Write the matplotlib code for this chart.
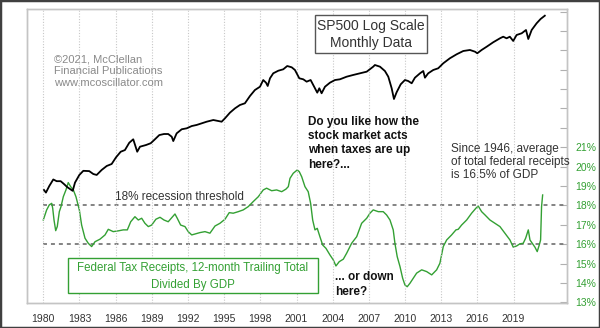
import matplotlib
matplotlib.use("Agg")
import matplotlib.pyplot as plt
from matplotlib.patches import Rectangle

plt.rcParams['font.family'] = ['Liberation Sans', 'DejaVu Sans']

# ---------------- data ----------------
sp_years = [1980.06, 1980.22, 1980.50, 1980.83, 1981.11, 1981.44, 1981.72, 1981.99, 1982.44, 1982.63,
            1982.99, 1983.32, 1983.81, 1984.15, 1984.43, 1984.84, 1985.26, 1985.67, 1986.03, 1986.42,
            1986.77, 1987.13, 1987.46, 1987.79, 1988.02, 1988.52, 1988.91, 1989.26, 1989.62, 1990.01,
            1990.36, 1990.65, 1990.78, 1991.06, 1991.48, 1991.89, 1992.31, 1992.72, 1993.13, 1993.55,
            1994.10, 1994.51, 1994.79, 1995.07, 1995.48, 1995.90, 1996.31, 1996.72, 1997.14, 1997.55,
            1997.97, 1998.24, 1998.47, 1998.61, 1998.80, 1999.07, 1999.49, 1999.90, 2000.23, 2000.60,
            2000.87, 2001.23, 2001.56, 2001.84, 2002.17, 2002.53, 2002.72, 2002.89, 2003.08, 2003.36,
            2003.77, 2004.19, 2004.60, 2005.16, 2005.70, 2006.26, 2006.82, 2007.36, 2007.50, 2007.92,
            2008.33, 2008.61, 2008.89, 2009.08, 2009.30, 2009.64, 2009.99, 2010.26, 2010.55, 2010.82,
            2011.24, 2011.51, 2011.65, 2011.92, 2012.34, 2012.75, 2013.17, 2013.72, 2014.28, 2014.83,
            2015.38, 2015.80, 2015.99, 2016.35, 2016.77, 2017.31, 2017.87, 2018.14, 2018.42, 2018.69,
            2018.97, 2019.25, 2019.67, 2020.03, 2020.22, 2020.50, 2020.91, 2021.24, 2021.59]
sp_values = [114, 108, 124, 142, 137, 137, 129, 121, 112, 133,
             156, 170, 169, 159, 156, 173, 188, 196, 225, 253,
             262, 305, 328, 253, 281, 291, 302, 328, 358, 366,
             366, 346, 316, 371, 404, 412, 432, 442, 457, 473,
             490, 480, 473, 508, 571, 625, 670, 694, 808, 915,
             980, 1127, 1066, 995, 1168, 1296, 1368, 1409, 1509, 1469,
             1389, 1168, 1144, 1089, 1127, 949, 866, 949, 855, 980,
             1066, 1127, 1144, 1208, 1252, 1296, 1341, 1488, 1541, 1488,
             1360, 1208, 949, 759, 873, 1031, 1127, 1104, 1053, 1183,
             1296, 1360, 1183, 1296, 1389, 1439, 1597, 1773, 1927, 2063,
             2107, 2034, 1967, 2107, 2256, 2474, 2687, 2779, 2687, 2779,
             2541, 2879, 2983, 3196, 2649, 3196, 3674, 4018, 4304]

tax_years = [1980.00, 1980.28, 1980.50, 1980.70, 1980.78, 1980.89, 1981.03, 1981.16, 1981.33, 1981.47,
             1981.66, 1981.88, 1982.07, 1982.27, 1982.49, 1982.71, 1982.99, 1983.18, 1983.46, 1983.73,
             1984.01, 1984.29, 1984.70, 1985.12, 1985.39, 1985.80, 1986.22, 1986.63, 1986.97, 1987.25,
             1987.60, 1987.88, 1988.16, 1988.43, 1988.71, 1988.99, 1989.34, 1989.68, 1990.01, 1990.36,
             1990.73, 1990.92, 1991.11, 1991.39, 1991.75, 1992.02, 1992.31, 1992.58, 1992.99, 1993.41,
             1993.82, 1994.24, 1994.65, 1995.07, 1995.42, 1995.75, 1996.17, 1996.58, 1997.00, 1997.41,
             1997.83, 1998.24, 1998.52, 1998.94, 1999.35, 1999.77, 2000.12, 2000.32, 2000.46, 2000.73,
             2001.06, 2001.23, 2001.43, 2001.70, 2001.97, 2002.17, 2002.34, 2002.53, 2002.72, 2002.94,
             2003.17, 2003.44, 2003.77, 2004.05, 2004.27, 2004.54, 2004.88, 2005.16, 2005.57, 2005.99,
             2006.40, 2006.82, 2007.09, 2007.36, 2007.78, 2008.19, 2008.47, 2008.75, 2009.02, 2009.16,
             2009.35, 2009.58, 2009.80, 2009.99, 2010.18, 2010.41, 2010.68, 2010.96, 2011.38, 2011.79,
             2012.21, 2012.62, 2012.89, 2013.17, 2013.45, 2013.86, 2014.22, 2014.41, 2014.69, 2015.11,
             2015.52, 2015.88, 2016.07, 2016.35, 2016.63, 2017.04, 2017.45, 2017.87, 2018.28, 2018.70,
             2018.97, 2019.25, 2019.52, 2019.80, 2020.00, 2020.22, 2020.36, 2020.58, 2020.77, 2020.96,
             2021.13, 2021.24, 2021.32, 2021.41]
tax_pct = [17.25, 17.77, 18.03, 18.11, 17.86, 17.25, 16.70, 16.91, 17.68, 17.94,
           18.45, 18.80, 19.18, 18.97, 18.80, 18.45, 17.77, 16.99, 16.31, 16.05,
           15.88, 16.13, 16.26, 16.48, 16.77, 16.65, 16.69, 16.74, 16.74, 17.16,
           17.42, 17.25, 17.34, 17.08, 16.91, 16.99, 17.29, 17.39, 17.25, 17.16,
           17.42, 17.56, 17.34, 16.99, 16.91, 16.65, 16.48, 16.53, 16.60, 16.65,
           16.57, 16.94, 17.08, 17.29, 17.63, 17.60, 17.68, 17.77, 17.94, 18.20,
           18.45, 18.80, 18.89, 18.76, 18.80, 18.71, 18.84, 18.97, 19.40, 19.66,
           19.83, 19.74, 19.48, 18.97, 18.71, 18.11, 17.25, 16.74, 16.82, 16.39,
           15.96, 15.79, 15.45, 15.19, 14.88, 15.10, 15.23, 15.54, 16.05, 16.39,
           17.08, 17.34, 17.60, 17.77, 17.68, 17.68, 17.51, 17.25, 16.74, 16.05,
           15.36, 14.85, 14.25, 13.90, 13.81, 13.99, 14.25, 14.51, 14.68, 14.59,
           14.42, 14.68, 15.02, 15.88, 16.22, 16.48, 16.74, 16.77, 16.99, 17.25,
           17.60, 17.86, 17.97, 17.68, 17.51, 17.25, 17.08, 16.91, 16.57, 16.22,
           15.85, 15.91, 16.02, 16.05, 16.31, 16.74, 16.22, 16.02, 15.85, 15.62,
           15.96, 16.22, 17.94, 18.54]

year_ticks = [1980, 1983, 1986, 1989, 1992, 1995, 1998, 2001, 2004, 2007, 2010, 2013, 2016, 2019]
pct_ticks = list(range(13, 29))
pct_labelled_max = 21
threshold_levels = [18, 16]

# ---------------- figure ----------------
W, H = 600, 328
fig = plt.figure(figsize=(W / 100, H / 100), dpi=100)
fig.patch.set_facecolor('white')


def fx(x):
    return x / W


def fy(y):
    return 1 - y / H


ax_l, ax_r, ax_t, ax_b = 27, 567, 9, 303
ax = fig.add_axes([fx(ax_l), fy(ax_b), fx(ax_r) - fx(ax_l), fy(ax_t) - fy(ax_b)])
ax2 = ax.twinx()

GREEN = '#33a033'
FRAME = '#c4c4c4'

# SP500 line (log scale, no labels)
ax.set_yscale('log')
ax.plot(sp_years, sp_values, color='black', lw=1.3, zorder=5, solid_joinstyle='round')
ax.set_ylim(10.83, 4948)
ax.set_xlim(1978.65, 2023.43)
ax.yaxis.set_major_locator(matplotlib.ticker.NullLocator())
ax.yaxis.set_minor_locator(matplotlib.ticker.NullLocator())
ax.set_xticks(year_ticks)
ax.set_xticklabels([str(y) for y in year_ticks], fontsize=7.5, color='#333333')
ax.tick_params(axis='x', length=0, pad=8)
ax.grid(axis='x', linestyle=(0, (1, 1.5)), color='#c8c8c8', lw=0.8)
ax.set_axisbelow(True)

# Tax receipts line (right axis)
ax2.plot(tax_years, tax_pct, color=GREEN, lw=1.0, zorder=4)
for lvl in threshold_levels:
    ax2.plot([1980, 2023.43], [lvl, lvl], color='#7a7a7a', lw=1.3,
             linestyle=(0, (2.2, 2.2)), zorder=3)
ax2.set_ylim(12.97, 28.13)
ax2.set_yticks(pct_ticks)
ax2.set_yticklabels([f'{p}%' if p <= pct_labelled_max else '' for p in pct_ticks],
                    fontsize=7.5, color=GREEN)
ax2.tick_params(axis='y', direction='in', length=5, color='#b0b0b0', pad=6)

ax.set_zorder(ax2.get_zorder() + 1)
ax.patch.set_visible(False)

for a in (ax, ax2):
    for s in a.spines.values():
        s.set_color(FRAME)
        s.set_linewidth(1.0)

# ---------------- annotations ----------------
fig.text(fx(54), fy(71.3), '©2021, McClellan\nFinancial Publications\nwww.mcoscillator.com',
         fontsize=8, color='#8a8a8a', ha='left', va='center', linespacing=1.22)

fig.patches.append(Rectangle((fx(315), fy(53.3)), fx(427) - fx(315), fy(15) - fy(53.3),
                             transform=fig.transFigure, fill=True, facecolor='white',
                             edgecolor='#555555', lw=1.0, zorder=6))
fig.text(fx(371), fy(34.2), 'SP500 Log Scale\nMonthly Data', fontsize=10, color='#333333',
         ha='center', va='center', linespacing=1.3, zorder=7)

fig.text(fx(308), fy(143.2), 'Do you like how the\nstock market acts\nwhen taxes are up\nhere?...',
         fontsize=8.5, fontweight='bold', color='#111111', ha='left', va='center', linespacing=1.25)

fig.text(fx(451), fy(162), 'Since 1946, average\nof total federal receipts\nis 16.5% of GDP',
         fontsize=8.5, color='#333333', ha='left', va='center', linespacing=1.1)

fig.text(fx(115), fy(196.7), '18% recession threshold', fontsize=8.5, color='#333333',
         ha='left', va='center')

fig.text(fx(335), fy(284.7), '... or down\nhere?', fontsize=8.5, fontweight='bold',
         color='#111111', ha='left', va='center', linespacing=1.35)

fig.patches.append(Rectangle((fx(68), fy(293)), fx(318) - fx(68), fy(258) - fy(293),
                             transform=fig.transFigure, fill=True, facecolor='white',
                             edgecolor=GREEN, lw=1.0, zorder=6))
fig.text(fx(193), fy(276.5), 'Federal Tax Receipts, 12-month Trailing Total\nDivided By GDP',
         fontsize=8.3, color=GREEN, ha='center', va='center', linespacing=1.45, zorder=7)

# outer border
fig.patches.append(Rectangle((0, 0), 1, 1, transform=fig.transFigure, fill=False,
                             edgecolor='#404040', lw=2.5, zorder=10))

fig.savefig('out.png', dpi=100, facecolor='white')
